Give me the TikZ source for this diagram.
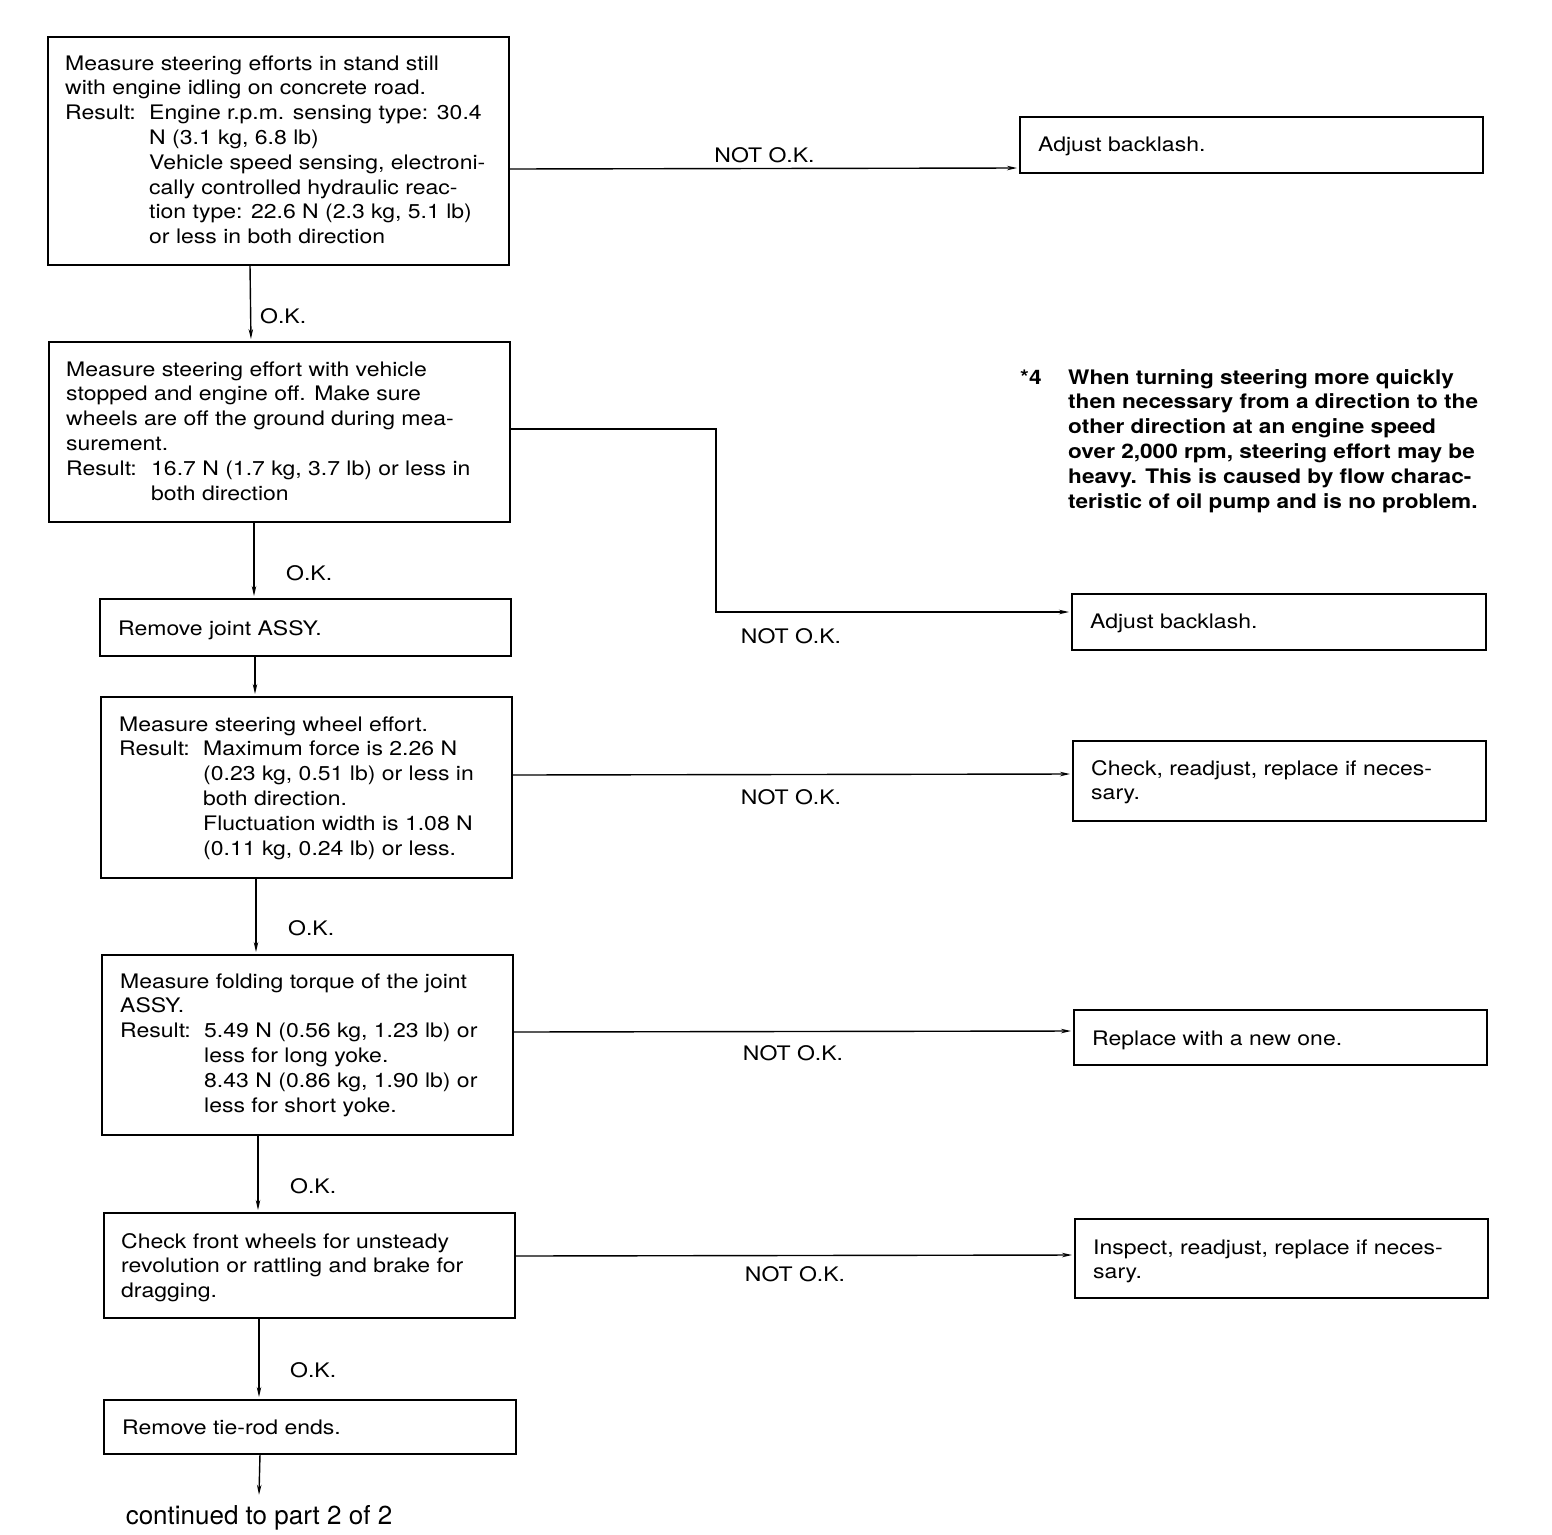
\documentclass[tikz,border=0pt]{standalone}
\usepackage{fontspec}
\setmainfont[FakeStretch=1.15]{TeX Gyre Heros}
\newfontfamily\plainsans{TeX Gyre Heros}
\newfontfamily\notefont[FakeStretch=1.13]{TeX Gyre Heros}
\usetikzlibrary{arrows.meta,fit}
\newcommand\flowtext[1]{\parbox[t]{440pt}{\raggedright #1}}
\newcommand\res{\makebox[84pt][l]{Result:}}
\newcommand\ind{\hspace*{84pt}}
\begin{document}
\begin{tikzpicture}[x=1pt,y=-1pt,
  boxst/.style={draw, line width=1.9pt, inner sep=0pt, outer sep=0pt},
  txt/.style={anchor=base west, inner sep=0pt, font=\fontsize{20}{24.8}\selectfont},
  lbl/.style={anchor=base, inner sep=0pt, font=\fontsize{20}{24.8}\selectfont},
  arr/.style={line width=1.4pt, -{Stealth[length=10pt,width=4.5pt]}, shorten >=3pt}]
\useasboundingbox[fill=white] (0,0) rectangle (1552,1534);

% boxes
\node[boxst, fit={(48,37) (509,265)}] (b1) {};
\node[boxst, fit={(1020,117) (1483,173)}] (a1) {};
\node[boxst, fit={(49,342) (510,522)}] (b2) {};
\node[boxst, fit={(1072,594) (1486,650)}] (a2) {};
\node[boxst, fit={(100,599) (511,656)}] (b3) {};
\node[boxst, fit={(101,697) (512,878)}] (b4) {};
\node[boxst, fit={(1073,741) (1486,821)}] (c4) {};
\node[boxst, fit={(102,955) (513,1135)}] (b5) {};
\node[boxst, fit={(1074,1010) (1487,1065)}] (r5) {};
\node[boxst, fit={(104,1213) (515,1318)}] (b6) {};
\node[boxst, fit={(1075,1219) (1488,1298)}] (i6) {};
\node[boxst, fit={(104,1400) (516,1454)}] (b7) {};

% texts
\node[txt] (t1) at (65,70) {\flowtext{Measure steering efforts in stand still\\
with engine idling on concrete road.\\
\res Engine r.p.m. sensing type: 30.4\\
\ind N (3.1 kg, 6.8 lb)\\
\ind Vehicle speed sensing, electroni-\\
\ind cally controlled hydraulic reac-\\
\ind tion type: 22.6 N (2.3 kg, 5.1 lb)\\
\ind or less in both direction}};
\node[txt] (ta1) at (1038,151) {Adjust backlash.};

\node[txt] (t2) at (66,376) {\flowtext{Measure steering effort with vehicle\\
stopped and engine off. Make sure\\
wheels are off the ground during mea-\\
surement.\\
\makebox[85pt][l]{Result:}16.7 N (1.7 kg, 3.7 lb) or less in\\
\hspace*{85pt}both direction}};
\node[txt] (ta2) at (1090,628) {Adjust backlash.};

\node[txt] (t3) at (118,635) {Remove joint ASSY.};

\node[txt] (t4) at (119,731) {\flowtext{Measure steering wheel effort.\\
\res Maximum force is 2.26 N\\
\ind (0.23 kg, 0.51 lb) or less in\\
\ind both direction.\\
\ind Fluctuation width is 1.08 N\\
\ind (0.11 kg, 0.24 lb) or less.}};
\node[txt] (tc4) at (1091,775) {\flowtext{Check, readjust, replace if neces-\\sary.}};

\node[txt] (t5) at (120,988) {\flowtext{Measure folding torque of the joint\\
ASSY.\\
\res 5.49 N (0.56 kg, 1.23 lb) or\\
\ind less for long yoke.\\
\ind 8.43 N (0.86 kg, 1.90 lb) or\\
\ind less for short yoke.}};
\node[txt] (tr5) at (1092,1045) {Replace with a new one.};

\node[txt] (t6) at (121,1248) {\flowtext{Check front wheels for unsteady\\
revolution or rattling and brake for\\
dragging.}};
\node[txt] (ti6) at (1093,1254) {\flowtext{Inspect, readjust, replace if neces-\\sary.}};

\node[txt] (t7) at (122,1434) {Remove tie-rod ends.};

\node[txt, font=\fontsize{20}{24.8}\selectfont\notefont\bfseries] (note) at (1020,384) {*4};
\node[txt, font=\fontsize{20}{24.8}\selectfont\notefont\bfseries] (notet) at (1068,384) {\flowtext{When turning steering more quickly\\
then necessary from a direction to the\\
other direction at an engine speed\\
over 2,000 rpm, steering effort may be\\
heavy. This is caused by flow charac-\\
teristic of oil pump and is no problem.}};

\node[anchor=base, inner sep=0pt, font=\fontsize{26}{30}\selectfont\plainsans] (cont) at (259,1524) {continued to part 2 of 2};

% connectors
\draw[arr] ([yshift=-132pt]b1.north east) -- node[lbl, above=5pt, pos=0.5] (n1) {NOT O.K.} ([yshift=-51pt]a1.north west);
\draw[arr] ([xshift=202pt]b1.south west) -- ([xshift=202pt]b2.north west);
\node[lbl, anchor=base west] (o1) at (260,323) {O.K.};

\draw[arr] ([yshift=-87pt]b2.north east) -- ++(206,0) coordinate (k2) |- ([yshift=-18pt]a2.north west);
\node[lbl] (n2) at (791,643) {NOT O.K.};
\draw[arr] ([xshift=205pt]b2.south west) -- ([xshift=154pt]b3.north west);
\node[lbl, anchor=base west] (o2) at (286,580) {O.K.};

\draw[arr] ([xshift=155pt]b3.south west) -- ([xshift=154pt]b4.north west);

\draw[arr] ([yshift=-78pt]b4.north east) -- ([yshift=-33pt]c4.north west);
\node[lbl] (n4) at (791,804) {NOT O.K.};
\draw[arr] ([xshift=155pt]b4.south west) -- ([xshift=154pt]b5.north west);
\node[lbl, anchor=base west] (o4) at (288,935) {O.K.};

\draw[arr] ([yshift=-77pt]b5.north east) -- ([yshift=-21pt]r5.north west);
\node[lbl] (n5) at (793,1060) {NOT O.K.};
\draw[arr] ([xshift=156pt]b5.south west) -- ([xshift=154pt]b6.north west);
\node[lbl, anchor=base west] (o5) at (290,1193) {O.K.};

\draw[arr] ([yshift=-43pt]b6.north east) -- ([yshift=-36pt]i6.north west);
\node[lbl] (n6) at (795,1281) {NOT O.K.};
\draw[arr] ([xshift=155pt]b6.south west) -- ([xshift=155pt]b7.north west);
\node[lbl, anchor=base west] (o6) at (290,1377) {O.K.};

\draw[arr, shorten >=0pt] ([xshift=156pt]b7.south west) -- ([yshift=10pt]cont.north);
\end{tikzpicture}
\end{document}
